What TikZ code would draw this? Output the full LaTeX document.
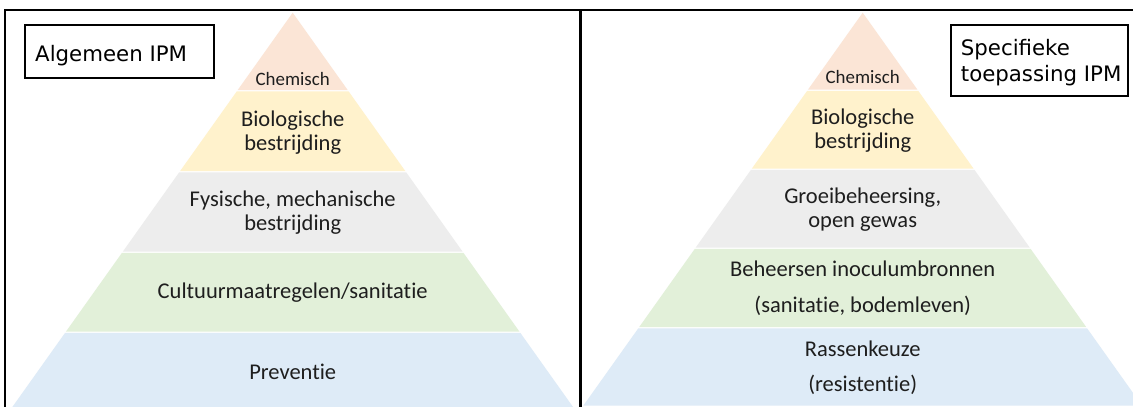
\documentclass[tikz,border=0pt]{standalone}
\usepackage{fontspec}
\newfontfamily\calib[Ligatures=NoCommon]{Carlito}
\newfontfamily\verd{DejaVu Sans}
\definecolor{cChem}{HTML}{FBE5D6}
\definecolor{cBio}{HTML}{FFF2CC}
\definecolor{cFys}{HTML}{EDEDED}
\definecolor{cCul}{HTML}{E2F0D9}
\definecolor{cPre}{HTML}{DEEBF7}
\definecolor{cTxt}{HTML}{1E1E1E}
\newcommand\pyrband[5]{%
  \pgfmathsetmacro\wa{0.711*(#3-12.7)}%
  \pgfmathsetmacro\wb{0.711*(#4-12.7)}%
  \fill[#5] (#1-\wa,#3) -- (#1+\wa,#3) -- (#1+\wb,#4) -- (#1-\wb,#4) -- cycle;%
}
\tikzset{
  frameline/.style={draw=black,line width=1.8pt},
  labelbox/.style={draw=black,line width=2pt},
  boxtext/.style={font=\verd\fontsize{21.3}{26}\selectfont,text=black,inner sep=0pt,anchor=base west,align=left},
  pyrtext/.style={font=\calib\fontsize{22.5}{24}\selectfont,text=cTxt,inner sep=0pt,anchor=base,align=center},
  pyrwide/.style={pyrtext,font=\calib\fontsize{22.5}{35.5}\selectfont},
  chemtext/.style={pyrtext,font=\calib\fontsize{18.9}{22}\selectfont}
}
\begin{document}
\begin{tikzpicture}[x=1pt,y=-1pt]
\useasboundingbox (0,0) rectangle (1133,407);
\fill[white] (0,0) rectangle (1133,407);
% left pyramid
\pyrband{292.7}{12.7}{12.7}{90.1}{cChem}
\pyrband{292.7}{12.7}{91.3}{171.1}{cBio}
\pyrband{292.7}{12.7}{172.3}{251.7}{cFys}
\pyrband{292.7}{12.7}{252.9}{331.7}{cCul}
\pyrband{292.7}{12.7}{332.9}{412}{cPre}
% right pyramid
\pyrband{862.7}{12.7}{12.7}{89.7}{cChem}
\pyrband{862.7}{12.7}{90.9}{168.7}{cBio}
\pyrband{862.7}{12.7}{169.9}{247.7}{cFys}
\pyrband{862.7}{12.7}{248.9}{327.1}{cCul}
\pyrband{862.7}{12.7}{328.3}{405.5}{cPre}
% frame
\coordinate (tl) at (4,10);
\coordinate (tr) at (1133,10);
\coordinate (bl) at (5,407);
\coordinate (tlv) at (5,10);
\coordinate (dt) at (580,10);
\coordinate (db) at (580,407);
\draw[frameline] (tl) -- (tr);
\draw[frameline] (tlv) -- (bl);
\draw[frameline,line width=3pt] (dt) -- (db);
% label boxes
\draw[labelbox] (25,25) rectangle (214,78);
\node[boxtext] (lA) at (35,61.7) {Algemeen IPM};
\draw[labelbox] (950.6,25) rectangle (1127.7,96);
\node[boxtext] (lB) at (960.7,81) {Specifieke\\toepassing IPM};
% left texts
\node[chemtext] (a1) at (292.7,85) {Chemisch};
\node[pyrtext] (a2) at (292.7,150.5) {Biologische\\bestrijding};
\node[pyrtext] (a3) at (292.7,230.7) {Fysische, mechanische\\bestrijding};
\node[pyrtext] (a4) at (292.7,298.3) {Cultuurmaatregelen/sanitatie};
\node[pyrtext] (a5) at (292.7,379) {Preventie};
% right texts
\node[chemtext] (b1) at (862.7,83.5) {Chemisch};
\node[pyrtext] (b2) at (862.7,148) {Biologische\\bestrijding};
\node[pyrtext] (b3) at (862.7,227) {Groeibeheersing,\\open gewas};
\node[pyrwide] (b4) at (862.7,312) {Beheersen inoculumbronnen\\(sanitatie, bodemleven)};
\node[pyrwide] (b5) at (862.7,391.5) {Rassenkeuze\\(resistentie)};
\end{tikzpicture}
\end{document}
